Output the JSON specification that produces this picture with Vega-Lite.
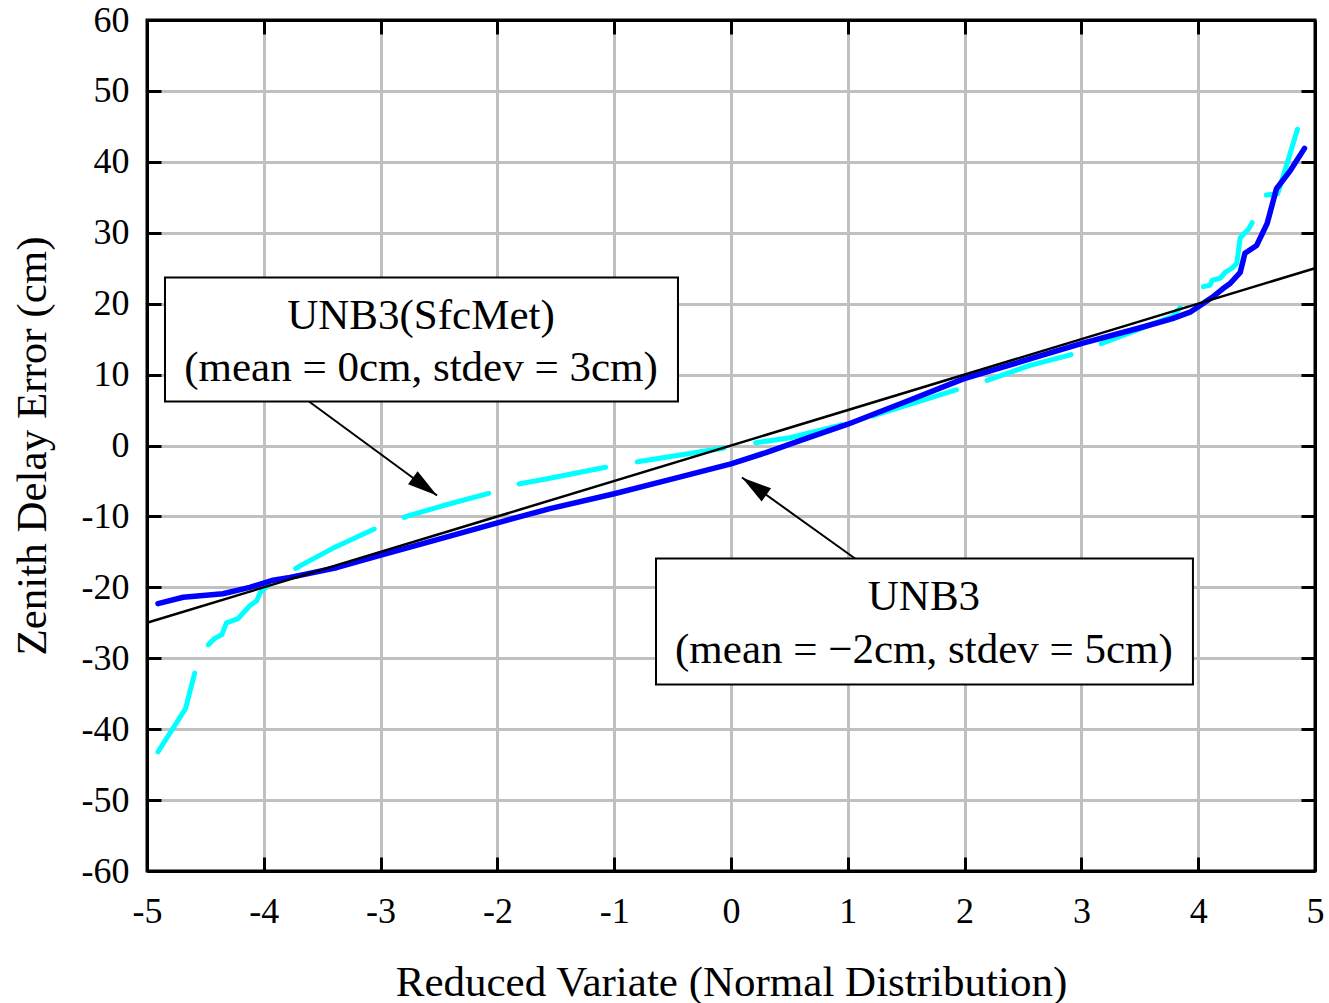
{
  "$schema": "https://vega.github.io/schema/vega-lite/v6.json",
  "width": 1168,
  "height": 851,
  "autosize": {"type": "none"},
  "padding": {"left": 147, "top": 20, "right": 14, "bottom": 132},
  "background": "white",
  "config": {
    "view": {"stroke": "black", "strokeWidth": 3},
    "font": "Liberation Serif",
    "axis": {
      "labelFont": "Liberation Serif",
      "titleFont": "Liberation Serif",
      "labelFontSize": 36,
      "titleFontSize": 43,
      "titleFontWeight": "normal",
      "labelColor": "black",
      "titleColor": "black",
      "tickColor": "black",
      "tickWidth": 3,
      "tickSize": -14,
      "domainColor": "black",
      "domainWidth": 3,
      "gridColor": "#c0c0c0",
      "gridWidth": 3,
      "gridOpacity": 1,
      "labelFlush": false,
      "labelOverlap": false
    }
  },
  "datasets": {
    "unb3sfc": [
      {"x": -4.906, "y": -43.2}, {"x": -4.67, "y": -37.1}, {"x": -4.57, "y": -30.7}, {"x": -4.5, "y": -28.5},
      {"x": -4.42, "y": -27.2}, {"x": -4.36, "y": -26.7}, {"x": -4.32, "y": -25.0}, {"x": -4.22, "y": -24.4},
      {"x": -4.12, "y": -22.6}, {"x": -4.06, "y": -21.9}, {"x": -4.03, "y": -20.7}, {"x": -3.95, "y": -19.5},
      {"x": -3.86, "y": -18.6}, {"x": -3.67, "y": -16.8}, {"x": -3.41, "y": -14.5}, {"x": -3.03, "y": -11.6},
      {"x": -2.78, "y": -10.0}, {"x": -2.47, "y": -8.5}, {"x": -2.04, "y": -6.6}, {"x": -1.81, "y": -5.4},
      {"x": -1.64, "y": -4.9}, {"x": -1.05, "y": -3.0}, {"x": -0.8, "y": -2.3}, {"x": -0.07, "y": -0.4},
      {"x": 0.18, "y": 0.3}, {"x": 0.505, "y": 1.1}, {"x": 0.92, "y": 2.8}, {"x": 1.22, "y": 4.2},
      {"x": 1.92, "y": 7.8}, {"x": 2.16, "y": 9.0}, {"x": 2.56, "y": 11.3}, {"x": 2.89, "y": 12.7},
      {"x": 3.13, "y": 14.1}, {"x": 3.48, "y": 16.3}, {"x": 3.78, "y": 18.2}, {"x": 3.947, "y": 21.4},
      {"x": 4.015, "y": 22.3}, {"x": 4.1, "y": 22.6}, {"x": 4.12, "y": 23.3}, {"x": 4.19, "y": 23.6},
      {"x": 4.23, "y": 24.4}, {"x": 4.29, "y": 25.0}, {"x": 4.33, "y": 25.7}, {"x": 4.36, "y": 29.3},
      {"x": 4.4, "y": 30.0}, {"x": 4.43, "y": 30.5}, {"x": 4.55, "y": 34.0}, {"x": 4.57, "y": 35.3},
      {"x": 4.68, "y": 35.5}, {"x": 4.73, "y": 38.1}, {"x": 4.85, "y": 44.6}
    ],
    "unb3": [
      {"x": -4.906, "y": -22.3}, {"x": -4.69, "y": -21.4}, {"x": -4.35, "y": -20.9}, {"x": -4.12, "y": -20.0},
      {"x": -3.92, "y": -19.0}, {"x": -3.776, "y": -18.6}, {"x": -3.66, "y": -18.2}, {"x": -3.37, "y": -17.2},
      {"x": -3.005, "y": -15.5}, {"x": -2.5, "y": -13.2}, {"x": -2.0, "y": -10.9}, {"x": -1.55, "y": -8.9},
      {"x": -1.0, "y": -6.8}, {"x": -0.5, "y": -4.7}, {"x": 0.0, "y": -2.6}, {"x": 0.3, "y": -1.0},
      {"x": 0.59, "y": 0.7}, {"x": 1.0, "y": 3.0}, {"x": 1.5, "y": 6.2}, {"x": 1.99, "y": 9.4},
      {"x": 2.56, "y": 12.2}, {"x": 3.005, "y": 14.4}, {"x": 3.48, "y": 16.5}, {"x": 3.78, "y": 17.9},
      {"x": 3.93, "y": 18.8}, {"x": 4.04, "y": 20.0}, {"x": 4.12, "y": 20.9}, {"x": 4.21, "y": 22.1},
      {"x": 4.27, "y": 22.8}, {"x": 4.36, "y": 24.4}, {"x": 4.4, "y": 27.1}, {"x": 4.5, "y": 28.2},
      {"x": 4.59, "y": 31.3}, {"x": 4.67, "y": 36.2}, {"x": 4.79, "y": 38.8}, {"x": 4.91, "y": 41.9}
    ],
    "normal": [{"x": -5, "y": -25}, {"x": 5, "y": 25}],
    "boxes": [
      {"id": "sfc", "x1": -4.846, "x2": -0.454, "y1": 23.7, "y2": 6.2},
      {"id": "unb3", "x1": -0.642, "x2": 3.955, "y1": -15.94, "y2": -33.7}
    ],
    "arrows": [
      {"id": "sfc", "x": -3.613, "y": 6.2, "x2": -2.517, "y2": -7.05},
      {"id": "unb3", "x": 1.062, "y": -15.94, "x2": 0.094, "y2": -4.51}
    ],
    "labels": [
      {"x": -2.654, "y": 18.2, "text": "UNB3(SfcMet)"},
      {"x": -2.654, "y": 10.9, "text": "(mean = 0cm, stdev = 3cm)"},
      {"x": 1.652, "y": -21.4, "text": "UNB3"},
      {"x": 1.652, "y": -28.9, "text": "(mean = \u22122cm, stdev = 5cm)"}
    ]
  },
  "resolve": {"axis": {"x": "independent", "y": "independent"}},
  "layer": [
    {
      "data": {"name": "unb3sfc"},
      "mark": {"type": "line", "color": "#00ffff", "strokeWidth": 5, "strokeDash": [88, 32], "strokeCap": "round", "strokeJoin": "round", "clip": true},
      "encoding": {
        "x": {"field": "x", "type": "quantitative", "scale": {"domain": [-5, 5], "nice": false, "zero": false},
          "axis": {"orient": "bottom", "values": [-5, -4, -3, -2, -1, 0, 1, 2, 3, 4, 5], "grid": true, "labelExpr": "'' + datum.value", "labelPadding": 37, "title": "Reduced Variate (Normal Distribution)", "titleX": 584, "titleY": 111, "titleBaseline": "middle"}},
        "y": {"field": "y", "type": "quantitative", "scale": {"domain": [-60, 60], "nice": false, "zero": false},
          "axis": {"orient": "left", "values": [-60, -50, -40, -30, -20, -10, 0, 10, 20, 30, 40, 50, 60], "grid": true, "labelExpr": "'' + datum.value", "labelPadding": 32, "title": "Zenith Delay Error (cm)", "titleX": -115, "titleY": 425.5, "titleBaseline": "middle", "titleAngle": -90}}
      }
    },
    {
      "data": {"name": "unb3"},
      "mark": {"type": "line", "color": "#0000ff", "strokeWidth": 5.5, "strokeCap": "round", "strokeJoin": "round", "clip": true},
      "encoding": {
        "x": {"field": "x", "type": "quantitative",
          "axis": {"orient": "top", "values": [-5, -4, -3, -2, -1, 0, 1, 2, 3, 4, 5], "grid": false, "labels": false, "title": null}},
        "y": {"field": "y", "type": "quantitative",
          "axis": {"orient": "right", "values": [-60, -50, -40, -30, -20, -10, 0, 10, 20, 30, 40, 50, 60], "grid": false, "labels": false, "title": null}}
      }
    },
    {
      "data": {"name": "normal"},
      "mark": {"type": "line", "color": "black", "strokeWidth": 2.5},
      "encoding": {
        "x": {"field": "x", "type": "quantitative", "axis": null},
        "y": {"field": "y", "type": "quantitative", "axis": null}
      }
    },
    {
      "data": {"name": "arrows"},
      "mark": {"type": "rule", "color": "black", "strokeWidth": 2},
      "encoding": {
        "x": {"field": "x", "type": "quantitative", "axis": null},
        "y": {"field": "y", "type": "quantitative", "axis": null},
        "x2": {"field": "x2"},
        "y2": {"field": "y2"}
      }
    },
    {
      "data": {"name": "arrows"},
      "transform": [{"filter": "datum.id == 'sfc'"}],
      "mark": {"type": "point", "shape": "M0,0L-0.27,1L0.27,1Z", "size": 3600, "filled": true, "color": "black", "opacity": 1, "angle": 126.3},
      "encoding": {
        "x": {"field": "x2", "type": "quantitative", "axis": null},
        "y": {"field": "y2", "type": "quantitative", "axis": null}
      }
    },
    {
      "data": {"name": "arrows"},
      "transform": [{"filter": "datum.id == 'unb3'"}],
      "mark": {"type": "point", "shape": "M0,0L-0.27,1L0.27,1Z", "size": 3600, "filled": true, "color": "black", "opacity": 1, "angle": 305.6},
      "encoding": {
        "x": {"field": "x2", "type": "quantitative", "axis": null},
        "y": {"field": "y2", "type": "quantitative", "axis": null}
      }
    },
    {
      "data": {"name": "boxes"},
      "mark": {"type": "rect", "fill": "white", "stroke": "black", "strokeWidth": 2},
      "encoding": {
        "x": {"field": "x1", "type": "quantitative", "axis": null},
        "x2": {"field": "x2"},
        "y": {"field": "y1", "type": "quantitative", "axis": null},
        "y2": {"field": "y2"}
      }
    },
    {
      "data": {"name": "labels"},
      "mark": {"type": "text", "font": "Liberation Serif", "fontSize": 43, "color": "black", "align": "center", "baseline": "middle"},
      "encoding": {
        "x": {"field": "x", "type": "quantitative", "axis": null},
        "y": {"field": "y", "type": "quantitative", "axis": null},
        "text": {"field": "text"}
      }
    }
  ]
}
